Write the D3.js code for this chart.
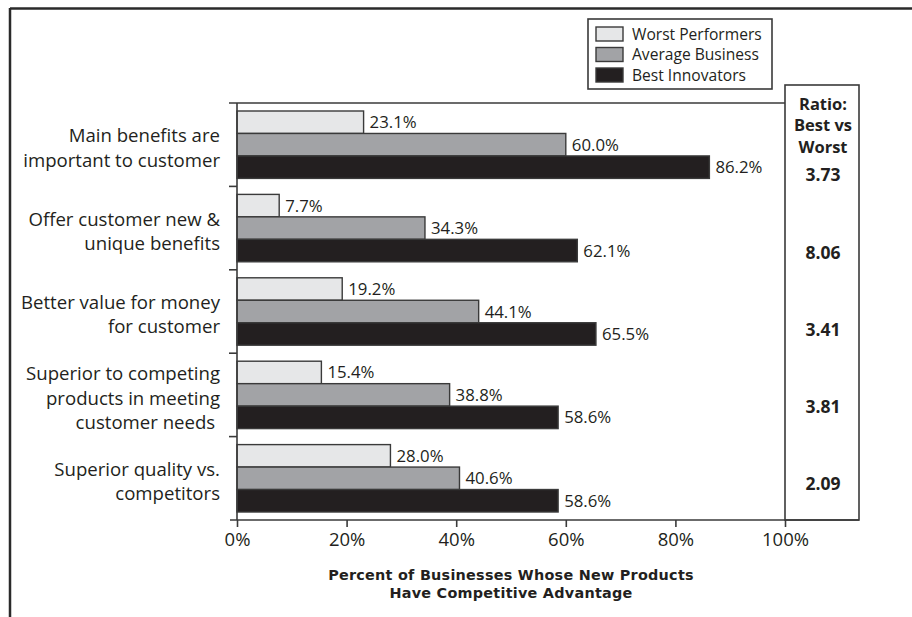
<!DOCTYPE html>
<html>
<head>
<meta charset="utf-8">
<script src="https://cdn.jsdelivr.net/npm/d3@7/dist/d3.min.js"></script>
<style>
  html, body { margin: 0; padding: 0; background: #fff; }
  svg { display: block; font-family: "Open Sans", "Noto Sans", sans-serif; }
  text { fill: #231f20; }
</style>
</head>
<body>
<svg id="chart" width="912" height="617"></svg>
<script>
// Competitive-advantage drivers, percent of businesses by performer group
const categories = [
  ["Main benefits are", "important to customer"],
  ["Offer customer new &", "unique benefits"],
  ["Better value for money", "for customer"],
  ["Superior to competing", "products in meeting", "customer needs "],
  ["Superior quality vs.", "competitors"]
];
const seriesNames = ["Worst Performers", "Average Business", "Best Innovators"];
const worstPerformers = [23.1, 7.7, 19.2, 15.4, 28.0];
const averageBusiness = [60.0, 34.3, 44.1, 38.8, 40.6];
const bestInnovators  = [86.2, 62.1, 65.5, 58.6, 58.6];
const xTicks = [0, 20, 40, 60, 80, 100];
const axisTitle = ["Percent of Businesses Whose New Products", "Have Competitive Advantage"];
const ratioHeader = ["Ratio:", "Best vs", "Worst"];

const seriesValues = [worstPerformers, averageBusiness, bestInnovators];
const fills = ["#e6e7e8", "#a2a3a6", "#231f20"];
const stroke = "#3a3a3a";

const svg = d3.select("#chart");
const ids = categories.map((c, i) => i);

const x = d3.scaleLinear().domain([0, 100]).range([237, 785]);
const y = d3.scaleBand().domain(ids).range([103, 520]).padding(0);
const yInner = d3.scaleBand().domain(d3.range(seriesNames.length))
  .range([8, y.bandwidth() - 8]).padding(0);

// outer frame (top and left edges)
svg.append("line").attr("x1", 10).attr("x2", 912).attr("y1", 8.5).attr("y2", 8.5)
  .attr("stroke", "#2a2a2a").attr("stroke-width", 2.5);
svg.append("line").attr("x1", 10).attr("x2", 10).attr("y1", 8).attr("y2", 617)
  .attr("stroke", "#2a2a2a").attr("stroke-width", 2.5);

// ratio column box
const ratioLeft = x(100), ratioRight = 859, ratioTop = 85;
svg.append("rect")
  .attr("x", ratioLeft).attr("y", ratioTop)
  .attr("width", ratioRight - ratioLeft).attr("height", y.range()[1] - ratioTop)
  .attr("fill", "none").attr("stroke", stroke).attr("stroke-width", 1.6);

// top boundary line of the plot
svg.append("line").attr("x1", 229).attr("x2", ratioLeft)
  .attr("y1", y.range()[0]).attr("y2", y.range()[0])
  .attr("stroke", stroke).attr("stroke-width", 1.6);

// bars
const groups = svg.append("g").selectAll("g").data(ids).join("g")
  .attr("transform", i => `translate(0,${y(i)})`);

seriesValues.forEach((vals, s) => {
  groups.append("rect")
    .attr("x", x(0))
    .attr("y", yInner(s))
    .attr("width", i => x(vals[i]) - x(0))
    .attr("height", yInner.bandwidth())
    .attr("fill", fills[s])
    .attr("stroke", stroke).attr("stroke-width", 1.4);
  groups.append("text")
    .attr("x", i => x(vals[i]) + 6)
    .attr("y", yInner(s) + yInner.bandwidth() / 2)
    .attr("dy", "0.36em")
    .attr("font-size", 16.8)
    .text(i => vals[i].toFixed(1) + "%");
});

// left axis with ticks at band boundaries
const yAxisG = svg.append("g");
yAxisG.append("line").attr("x1", x(0)).attr("x2", x(0))
  .attr("y1", y.range()[0]).attr("y2", y.range()[1])
  .attr("stroke", stroke).attr("stroke-width", 1.6);
yAxisG.selectAll("line.tick").data(ids.slice(1)).join("line")
  .attr("class", "tick")
  .attr("x1", 229).attr("x2", x(0))
  .attr("y1", i => y(i)).attr("y2", i => y(i))
  .attr("stroke", stroke).attr("stroke-width", 1.6);

// category labels
svg.append("g").selectAll("text").data(ids).join("text")
  .attr("text-anchor", "end")
  .attr("font-size", 18.6)
  .attr("xml:space", "preserve")
  .style("white-space", "pre")
  .each(function (i) {
    const lines = categories[i];
    const lh = 24.5;
    const cy = y(i) + y.bandwidth() / 2 + 3;
    const t = d3.select(this);
    lines.forEach((ln, k) => {
      t.append("tspan")
        .attr("x", 220)
        .attr("y", cy + (k - (lines.length - 1) / 2) * lh)
        .attr("dy", "0.36em")
        .text(ln);
    });
  });

// bottom axis
const xAxis = d3.axisBottom(x).tickValues(xTicks).tickSize(7).tickPadding(6)
  .tickFormat(d => d + "%");
const xAxisG = svg.append("g").attr("transform", `translate(0,${y.range()[1]})`).call(xAxis);
xAxisG.select(".domain").remove();
xAxisG.selectAll(".tick line").attr("stroke", stroke).attr("stroke-width", 1.6);
xAxisG.selectAll(".tick text").attr("font-size", 18.5).attr("fill", "#231f20")
  .attr("font-family", "\"Open Sans\", sans-serif");
svg.append("line").attr("x1", 230).attr("x2", ratioRight)
  .attr("y1", y.range()[1]).attr("y2", y.range()[1])
  .attr("stroke", stroke).attr("stroke-width", 1.6);

// axis title, two separate lines
svg.append("g").selectAll("text").data(axisTitle).join("text")
  .attr("text-anchor", "middle").attr("font-weight", "bold")
  .attr("font-family", "\"DejaVu Sans\", sans-serif")
  .attr("font-size", 14.4)
  .attr("letter-spacing", 0.25)
  .attr("x", (x(0) + x(100)) / 2)
  .attr("y", (d, k) => 575 + k * 17.5)
  .attr("dy", "0.36em")
  .text(d => d);

// ratio column
const ratioX = (ratioLeft + ratioRight) / 2 + 1;
svg.append("text").attr("text-anchor", "middle").attr("font-weight", "bold")
  .attr("font-size", 16.5)
  .selectAll("tspan").data(ratioHeader).join("tspan")
  .attr("x", ratioX)
  .attr("y", (d, k) => 104 + k * 21.5)
  .attr("dy", "0.36em")
  .text(d => d);

const ratios = ids.map(i => bestInnovators[i] / worstPerformers[i]);
const yRatio = d3.scalePoint().domain(ids).range([175, 484]);
svg.append("g").selectAll("text").data(ids).join("text")
  .attr("text-anchor", "middle").attr("font-weight", "bold").attr("font-size", 17.5)
  .attr("x", ratioX)
  .attr("y", i => yRatio(i))
  .attr("dy", "0.36em")
  .text(i => ratios[i].toFixed(2));

// legend
const legend = svg.append("g");
legend.append("rect").attr("x", 588).attr("y", 19).attr("width", 184).attr("height", 70)
  .attr("fill", "#fff").attr("stroke", stroke).attr("stroke-width", 1.6);
const legendRows = legend.selectAll("g").data(seriesNames).join("g")
  .attr("transform", (d, k) => `translate(596,${27 + k * 20.5})`);
legendRows.append("rect").attr("width", 27).attr("height", 14)
  .attr("fill", (d, k) => fills[k]).attr("stroke", stroke).attr("stroke-width", 1.4);
legendRows.append("text").attr("x", 36).attr("y", 7).attr("dy", "0.36em")
  .attr("font-size", 15.6).text(d => d);
</script>
</body>
</html>
